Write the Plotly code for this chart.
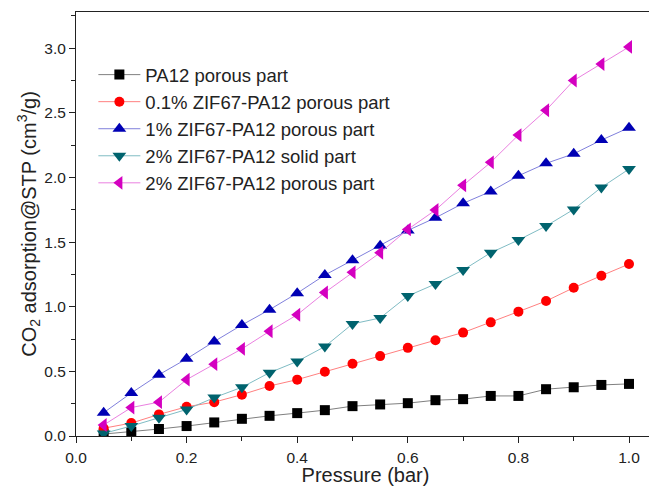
import plotly.graph_objects as go

pressure = [0.05, 0.10, 0.15, 0.20, 0.25, 0.30, 0.35, 0.40, 0.45, 0.50,
            0.55, 0.60, 0.65, 0.70, 0.75, 0.80, 0.85, 0.90, 0.95, 1.00]

pa12_porous = [0.015, 0.033, 0.054, 0.077, 0.105, 0.133, 0.156, 0.177, 0.200, 0.231,
               0.244, 0.254, 0.277, 0.285, 0.310, 0.310, 0.362, 0.377, 0.395, 0.403]
zif01_porous = [0.060, 0.100, 0.167, 0.226, 0.262, 0.320, 0.387, 0.436, 0.497, 0.559,
                0.618, 0.682, 0.741, 0.800, 0.879, 0.962, 1.044, 1.147, 1.240, 1.330]
zif1_porous = [0.180, 0.333, 0.474, 0.597, 0.731, 0.859, 0.977, 1.105, 1.245, 1.359,
               1.472, 1.590, 1.688, 1.800, 1.892, 2.013, 2.109, 2.183, 2.289, 2.385]
zif2_solid = [0.020, 0.077, 0.141, 0.205, 0.297, 0.377, 0.490, 0.577, 0.692, 0.867,
              0.913, 1.083, 1.176, 1.284, 1.418, 1.516, 1.624, 1.753, 1.923, 2.065]
zif2_porous = [0.085, 0.220, 0.262, 0.436, 0.556, 0.674, 0.810, 0.938, 1.110, 1.266,
               1.418, 1.598, 1.748, 1.939, 2.117, 2.328, 2.520, 2.750, 2.877, 3.010]

names = ["PA12 porous part", "0.1% ZIF67-PA12 porous part", "1% ZIF67-PA12 porous part",
         "2% ZIF67-PA12 solid part", "2% ZIF67-PA12 porous part"]
series = [pa12_porous, zif01_porous, zif1_porous, zif2_solid, zif2_porous]
marker_colors = ["#000000", "#ff0000", "#0000b4", "#00636e", "#d400c0"]
line_colors = ["#808080", "#ff8080", "#8080dc", "#80bcc4", "#ea80e0"]
symbols = ["square", "circle", "triangle-up", "triangle-down", "triangle-left"]
sizes = [10, 10, 12, 12, 12]

fig = go.Figure()
for nm, ys, mc, lc, sym, sz in zip(names, series, marker_colors, line_colors, symbols, sizes):
    fig.add_trace(go.Scatter(
        x=pressure, y=ys, name=nm, mode="lines+markers",
        line=dict(color=lc, width=1),
        marker=dict(symbol=sym, size=sz, color=mc, line=dict(width=0)),
    ))

ink = "#222222"
fam = "Liberation Sans, Arial, sans-serif"
# The page body has an 8px margin, so the figure is sized to fit the 657x486 window.
fig.update_layout(
    width=649, height=478,
    margin=dict(l=68, r=2, t=4, b=50, autoexpand=False),
    paper_bgcolor="white", plot_bgcolor="white",
    font=dict(family=fam, size=16, color=ink),
    showlegend=True,
    legend=dict(
        x=0.03, y=0.896, xanchor="left", yanchor="top",
        bgcolor="rgba(0,0,0,0)", borderwidth=0,
        font=dict(family=fam, size=18.5, color=ink),
        tracegroupgap=0, itemwidth=42,
    ),
    xaxis=dict(
        range=[0, 1.047], tickmode="linear", tick0=0, dtick=0.2, tickformat=".1f",
        ticks="outside", ticklen=6, tickwidth=1, tickcolor=ink,
        minor=dict(tickmode="linear", tick0=0, dtick=0.1, ticks="outside", ticklen=4,
                   tickwidth=1, tickcolor=ink, showgrid=False),
        showline=True, linecolor=ink, linewidth=1, mirror=True,
        showgrid=False, zeroline=False, automargin=False,
        tickfont=dict(family=fam, size=15.5, color=ink), ticklabelstandoff=1,
        title=dict(text="Pressure (bar)", font=dict(family=fam, size=20, color=ink), standoff=2),
    ),
    yaxis=dict(
        range=[0, 3.28], tickmode="linear", tick0=0, dtick=0.5, tickformat=".1f",
        ticks="outside", ticklen=6, tickwidth=1, tickcolor=ink,
        minor=dict(tickmode="linear", tick0=0, dtick=0.25, ticks="outside", ticklen=4,
                   tickwidth=1, tickcolor=ink, showgrid=False),
        showline=True, linecolor=ink, linewidth=1, mirror=True,
        showgrid=False, zeroline=False, automargin=False,
        tickfont=dict(family=fam, size=15.5, color=ink),
        title=dict(text="CO<sub>2</sub> adsorption@STP (cm<sup>3</sup>/g)",
                   font=dict(family=fam, size=20, color=ink), standoff=2),
    ),
)

fig.write_html("out.html")
